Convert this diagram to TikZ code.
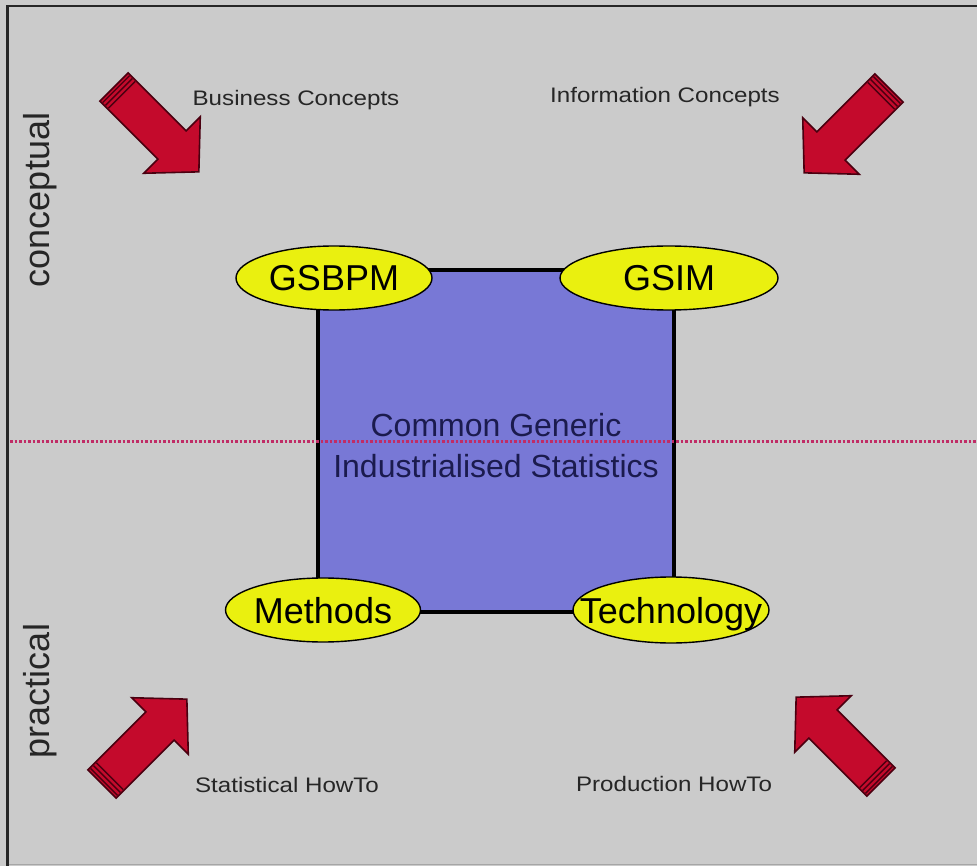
\documentclass[tikz,border=0pt]{standalone}
\usepackage{fontspec}
\setmainfont{Liberation Sans}
\usetikzlibrary{shapes.geometric}

\definecolor{panel}{HTML}{CBCBCB}
\definecolor{corefill}{HTML}{7878D6}
\definecolor{coretext}{HTML}{1B1B4E}
\definecolor{pillfill}{HTML}{EAF00F}
\definecolor{divider}{HTML}{C02C66}
\definecolor{arrowred}{HTML}{C40A2C}
\definecolor{arrowdark}{HTML}{4A0010}

\tikzset{
  core/.style={draw=black, line width=3.5pt, fill=corefill, rectangle,
    minimum width=356pt, minimum height=342pt, inner sep=0pt,
    align=center, text=coretext, font=\fontsize{32}{41}\selectfont},
  pill/.style={draw=black, line width=1.4pt, fill=pillfill, ellipse,
    inner sep=0pt, text height=26pt, text depth=0pt,
    font=\fontsize{36}{40}\selectfont},
  caption/.style={inner sep=0pt, text=black!85, font=\fontsize{21}{24}\selectfont},
  sidelabel/.style={inner sep=0pt, rotate=90, text=black!85, font=\fontsize{36}{40}\selectfont},
  arrowbody/.style={fill=arrowred, draw=arrowdark, line width=1.6pt, line join=miter},
  arrowband/.style={draw=arrowdark, line width=1.4pt},
}

% block arrow: tail centre (#1,#2), direction #3 degrees
\newcommand\redarrow[3]{%
  \begin{scope}[shift={(#1,#2)}, rotate=#3]
    \filldraw[arrowbody] (0,-20) -- (82,-20) -- (82,-40) -- (120,0)
      -- (82,40) -- (82,20) -- (0,20) -- cycle;
    \foreach \s in {3,7,11} \draw[arrowband] (\s,-19) -- (\s,19);
  \end{scope}}

\begin{document}
\begin{tikzpicture}[x=1pt,y=-1pt]
  \useasboundingbox (0,0) rectangle (977,866);
  \fill[panel] (0,0) rectangle (977,866);

  % frame
  \draw[black!85, line width=2.5pt] (7.5,866) -- (7.5,6) -- (977,6);
  \draw[black!35, line width=1.5pt] (9,864.5) -- (977,864.5);

  % central square
  \node[core] (core) at (496,441) {\rule{0pt}{33pt}Common Generic\\Industrialised Statistics};

  % divider between conceptual and practical
  \coordinate (divL) at (10,441);
  \coordinate (divR) at (977,441);
  \draw[divider, line width=3pt, dash pattern=on 2.5pt off 2pt] (divL) -- (divR);

  % the four building blocks
  \node[pill, minimum width=196pt, minimum height=64pt] (gsbpm) at (334,278) {\makebox[0pt]{GSBPM}};
  \node[pill, minimum width=218pt, minimum height=64pt] (gsim) at (669,278) {\makebox[0pt]{GSIM}};
  \node[pill, minimum width=195pt, minimum height=64pt] (methods) at (323,610) {\makebox[0pt]{Methods}};
  \node[pill, minimum width=196pt, minimum height=66pt] (tech) at (671,610) {\makebox[0pt]{Technology}};

  % side labels
  \node[sidelabel] (conc) at (40,200) {conceptual};
  \node[sidelabel] (prac) at (40,691) {practical};

  % corner captions
  \node[caption] (busc) at (296,100) {\scalebox{1.15}[1]{Business Concepts}};
  \node[caption] (infc) at (665,97) {\scalebox{1.15}[1]{Information Concepts}};
  \node[caption] (stat) at (287,785) {\scalebox{1.15}[1]{Statistical HowTo}};
  \node[caption] (prod) at (674,784) {\scalebox{1.15}[1]{Production HowTo}};

  % inward arrows
  \redarrow{114}{87}{-45}
  \redarrow{889}{88}{-135}
  \redarrow{102}{784}{45}
  \redarrow{881}{782}{135}
\end{tikzpicture}
\end{document}
